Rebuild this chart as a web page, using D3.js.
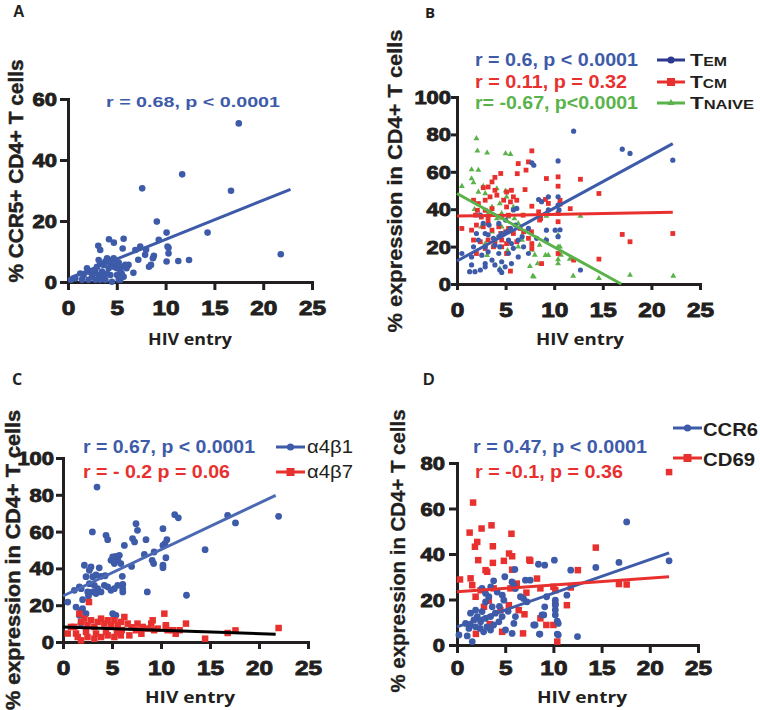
<!DOCTYPE html>
<html>
<head>
<meta charset="utf-8">
<script src="https://cdn.jsdelivr.net/npm/d3@7"></script>
<style>
body { margin: 0; background: #fff; }
svg text { font-family: "Liberation Sans", Arial, sans-serif; }
.tk { font-family: "Liberation Sans", Arial, sans-serif; font-weight: bold; fill: #231f20; stroke: #231f20; stroke-width: 0.9px; }
</style>
</head>
<body>
<div id="chart"></div>
<script>
// colours
var blue = "#3d5ba9", red = "#e8312f", green = "#5ab34a", navy = "#2b3a8f", ink = "#231f20";

var xTicks = [0, 5, 10, 15, 20, 25];
var xTitle = "HIV entry";

// ---- panel A: CCR5+ vs HIV entry
var ccr5 = [[17.5,52],[11.7,35.3],[7.6,30.7],[16.7,29.9],[9.1,19.8],[14.3,16.2],[10.1,16.2],[21.8,9.1],
  [12.4,7.2],[11.3,6.9],[10.1,6.7],[10.3,11.2],[10.3,9.4],[10.2,11.6],[9.3,13.8],[8.8,8.6],[8.5,5.6],
  [8.3,5.0],[8.7,7.8],[8.0,10.6],[7.4,11.6],[6.9,10.5],[7.2,7.3],[7.9,8.9],[6.7,3.0],[6.2,5.6],[6.0,4.5],
  [5.6,11.0],[5.7,14.2],[4.7,12.9],[4.2,14.0],[3.1,11.9],[3.3,10.5],[5.5,2.8],[5.7,1.7],[5.2,0.7],
  [0.3,0.7],[0.75,1.2],[1.26,2.8],[1.6,2.3],[1.95,4.5],[2.1,3.4],[2.46,1.7],[2.63,2.8],[2.8,3.9],
  [2.97,5.0],[3.14,2.3],[3.31,6.1],[3.48,3.4],[3.65,5.6],[3.65,1.7],[3.83,6.7],[4.0,7.8],[4.17,4.5],
  [4.34,6.1],[4.51,7.2],[4.68,5.0],[4.85,5.8],[5.02,2.3],[5.19,6.4],[5.36,3.9],[5.53,5.0],[4.34,2.3],
  [4.0,2.8],[2.8,0.7],[2.1,0.7],[1.43,0.7],[3.3,0.7],[5.0,4.5],[5.87,5.6],[3.83,0.7],[4.5,0.1],
  [5.36,0.7],[3.14,7.2],[4.17,7.2],[4.68,7.8]];
var fitA = [0.3, 1.5, 22.8, 30.4];
var yTicksA = [0, 20, 40, 60];
var statA = "r = 0.68, p < 0.0001";

// ---- panel B: memory subsets
var tem = [[12.0,81.7],[10.4,65.8],[7.7,64.8],[7.9,63.5],[17.0,72.1],[17.8,69.8],[22.2,66.2],[8.4,45.2],
  [8.7,44.0],[9.4,46.6],[10.4,46.6],[10.4,42.2],[6.15,40.4],[5.8,39.6],[10.5,39.6],[9.2,28.8],[10.1,28.8],
  [10.6,29.0],[6.0,31.5],[5.5,29.7],[5.0,34.2],[5.1,27.9],[4.3,32.4],[3.3,31.5],[2.4,36.8],[2.7,32.4],
  [2.0,27.0],[2.9,27.0],[2.2,23.5],[3.2,26.3],[3.75,24.4],[4.3,25.3],[4.6,27.0],[5.3,23.5],[5.6,21.6],
  [6.3,23.5],[6.7,25.3],[6.85,19.9],[5.8,19.1],[4.4,19.9],[3.9,20.7],[2.9,19.9],[1.7,19.9],[3.2,17.2],
  [4.3,16.3],[5.3,16.3],[6.3,14.5],[7.35,16.3],[8.2,24.4],[7.35,29.7],[0.5,16.3],[1.5,14.5],[2.55,15.4],
  [3.6,12.8],[4.6,11.9],[5.6,10.9],[3.9,10.2],[2.9,10.9],[1.5,10.2],[1.3,6.6],[1.85,6.6],[2.4,7.5],
  [2.9,9.2],[4.4,7.5],[4.95,9.2],[12.7,7.5],[9.4,39.6],[10.4,25.3],[9.2,23.5],[4.6,6.2]];
var tcm = [[7.7,71.2],[7.35,65.3],[6.3,64.4],[6.2,59.0],[7.1,60.9],[7.0,50.5],[9.2,56.4],[10.4,52.3],
  [10.4,57.3],[12.7,56.0],[4.5,59.1],[3.9,57.0],[3.6,54.6],[3.2,51.9],[2.7,51.5],[3.9,50.1],[1.7,44.8],
  [2.2,43.0],[2.9,44.8],[3.4,46.6],[4.1,47.5],[4.8,44.8],[5.1,49.2],[5.6,50.1],[5.8,46.6],[5.5,43.9],
  [6.15,44.8],[5.1,41.2],[3.6,40.3],[2.9,39.4],[2.1,39.4],[1.9,36.8],[2.5,35.8],[3.2,35.0],[4.6,35.8],
  [5.3,36.8],[6.8,36.8],[8.4,38.6],[8.6,35.0],[7.7,41.6],[11.65,40.3],[9.1,45.2],[9.4,43.1],[10.6,44.8],
  [10.6,42.7],[10.4,37.7],[10.4,33.3],[8.5,34.2],[7.66,27.9],[0.5,29.7],[1.5,28.8],[2.0,31.5],[2.7,30.6],
  [3.2,32.4],[3.6,28.8],[4.3,30.6],[4.5,27.0],[5.0,27.9],[5.3,29.7],[5.8,27.0],[6.5,29.7],[6.85,27.9],
  [1.7,23.5],[2.4,22.6],[3.2,23.5],[3.9,21.6],[4.6,23.5],[5.1,21.6],[6.15,22.6],[7.35,24.4],[7.7,21.6],
  [2.9,19.0],[3.75,19.9],[4.6,19.9],[2.0,16.3],[5.1,16.3],[7.7,19.0],[10.4,16.3],[12.0,12.8],[8.7,10.9],
  [5.5,6.9],[14.6,13.3],[14.6,48.4],[17.0,26.5],[17.8,22.6],[22.2,27.0]];
var tnaive = [[2.0,77.8],[2.1,71.2],[3.1,70.1],[5.0,69.8],[5.5,69.4],[1.5,61.2],[2.2,60.9],[0.5,52.3],
  [1.5,56.4],[1.7,54.2],[2.7,52.3],[2.2,49.2],[2.9,48.4],[4.1,51.0],[5.0,49.8],[5.1,46.6],[4.4,43.0],
  [3.6,41.2],[5.8,41.2],[4.6,37.7],[5.3,35.9],[5.9,35.0],[4.1,35.0],[3.2,37.7],[2.5,30.6],[3.6,27.9],
  [4.6,30.6],[6.3,32.4],[9.2,36.4],[12.7,36.4],[6.7,23.5],[9.1,23.9],[10.4,26.1],[2.9,21.6],[3.9,23.5],
  [6.3,19.9],[7.7,18.1],[8.5,20.8],[10.4,19.9],[10.6,19.9],[3.1,15.4],[8.0,15.5],[9.1,15.4],[9.4,15.4],
  [10.4,13.1],[11.6,13.3],[10.4,10.9],[7.5,9.4],[4.4,8.2],[8.3,10.9],[7.9,3.8],[7.8,4.3],[11.95,4.3],
  [14.6,3.0],[17.8,4.8],[22.25,4.3],[10.7,15.5],[5.2,18.0],[1.8,40.0]];
var fitTem = [0, 12.3, 22.2, 75.1];
var fitTcm = [0, 36.3, 22.2, 38.4];
var fitNaive = [0, 48.4, 16.9, 0];
var yTicksB = [0, 20, 40, 60, 80, 100];
var statsB = ["r = 0.6, p < 0.0001", "r = 0.11, p = 0.32", "r= -0.67, p<0.0001"];
var namesB = [["T", "EM"], ["T", "CM"], ["T", "NAIVE"]];

// ---- panel C: integrins
var a4b1 = [[3.47,84.2],[3.0,59.8],[4.39,58.0],[4.56,55.6],[7.45,64.3],[7.6,60.7],[7.1,56.2],[7.3,54.4],
  [8.47,55.6],[10.2,61.6],[10.6,55.6],[10.4,53.4],[10.2,52.5],[11.4,69.2],[11.77,67.5],[16.8,68.8],
  [17.6,64.7],[22.0,68.3],[14.5,50.2],[12.6,25.4],[10.2,41.7],[10.2,40.4],[10.5,45.8],[9.1,44.4],
  [9.25,42.6],[9.3,48.9],[8.6,27.2],[8.3,47.6],[7.0,41.1],[6.26,52.5],[6.05,35.7],[6.1,31.3],[6.1,27.2],
  [5.07,46.2],[5.4,46.5],[5.6,44.4],[5.75,47.1],[4.9,44.4],[5.24,42.6],[5.9,42.6],[2.18,41.7],[2.86,40.8],
  [2.69,39.0],[3.7,40.3],[3.88,35.7],[3.03,35.5],[3.37,36.4],[2.35,35.5],[2.69,31.7],[3.2,30.8],[3.54,29.0],
  [3.88,27.2],[4.22,30.8],[4.56,30.0],[4.9,28.1],[5.24,29.0],[5.58,30.8],[6.09,29.0],[1.67,30.0],[1.85,29.0],
  [1.16,28.1],[2.52,27.2],[3.03,27.2],[3.37,26.3],[0.48,21.7],[1.33,19.0],[1.84,17.2],[2.0,18.1],[2.35,15.4],
  [1.67,14.5],[1.84,10.2],[5.07,15.4],[5.4,14.5],[4.3,36.0],[2.0,23.0],[2.6,25.0]];
var a4b7 = [[2.65,21.7],[1.67,15.4],[0.48,4.6],[1.16,8.2],[1.84,10.9],[2.18,12.7],[2.5,9.1],[2.86,11.8],
  [3.2,8.2],[3.54,10.9],[3.88,12.7],[4.22,10.0],[4.56,11.8],[4.9,9.1],[5.24,11.8],[5.58,9.1],[5.9,10.9],
  [6.26,13.6],[6.6,10.0],[7.45,6.4],[7.6,10.0],[8.13,8.2],[8.64,7.3],[9.15,11.8],[9.66,7.3],[10.34,15.4],
  [10.5,9.1],[10.68,6.4],[11.2,6.4],[11.9,6.4],[12.55,10.0],[1.5,2.7],[1.84,0.9],[2.5,2.7],[3.2,1.8],
  [3.88,2.7],[4.56,3.6],[5.24,2.7],[5.9,3.6],[6.77,3.6],[0.82,8.2],[1.33,4.6],[2.35,5.5],[3.37,4.6],
  [4.39,5.5],[9.3,6.4],[14.5,1.8],[16.8,4.9],[17.6,6.3],[22.0,7.6],[11.5,4.5],[9.0,10.0],[10.5,8.2],
  [7.0,8.0],[8.0,4.5],[6.0,6.5],[5.5,5.0]];
var fitB1 = [0, 25, 21.7, 79.7];
var fitB7 = [0, 8.2, 21.7, 4.2];
var statsC = ["r = 0.67, p < 0.0001", "r = - 0.2 p = 0.06"];
var namesC = ["\u03b14\u03b21", "\u03b14\u03b27"];

// ---- panel D: CCR6 / CD69
var ccr6 = [[17.6,54.1],[16.8,36.3],[14.4,34.1],[22.0,37.0],[10.1,37.3],[8.45,35.5],[9.1,35.1],[11.8,32.9],
  [11.4,21.9],[12.5,3.7],[10.5,4.4],[10.4,10.5],[8.55,4.8],[9.0,13.2],[9.1,16.8],[9.3,21.2],[8.1,8.8],
  [10.2,19.7],[10.2,17.5],[10.2,15.4],[10.2,13.2],[7.1,28.5],[7.6,28.5],[6.0,33.2],[4.96,30.0],[3.8,28.2],
  [5.7,27.7],[5.9,26.3],[6.06,24.8],[2.6,24.9],[2.96,22.7],[3.3,21.2],[4.17,23.3],[4.7,21.9],[4.86,19.7],
  [2.96,18.9],[3.65,16.8],[6.58,21.2],[6.9,20.4],[7.26,19.0],[10.2,18.2],[1.93,15.3],[1.4,14.0],[2.1,12.5],
  [2.6,14.7],[1.76,11.0],[2.45,10.2],[2.96,11.7],[3.48,12.5],[3.98,14.0],[4.68,12.5],[4.34,10.2],[3.8,8.8],
  [3.1,8.0],[2.4,7.3],[1.93,8.0],[1.4,8.8],[0.89,9.5],[1.24,7.3],[2.76,5.8],[3.48,6.6],[5.03,6.6],[5.72,5.1],
  [5.9,9.5],[6.06,12.5],[7.96,8.8],[8.82,13.2],[8.6,4.8],[10.4,4.8],[10.5,9.5],[0.2,4.4],[1.06,4.0],
  [1.58,1.5],[4.4,17.0],[5.3,14.8],[3.5,25.5]];
var cd69 = [[1.67,62.6],[1.31,49.4],[2.55,51.2],[3.58,52.6],[5.65,48.9],[2.1,45.3],[1.86,43.2],[3.72,43.4],
  [2.2,37.3],[2.96,32.9],[3.13,32.2],[3.72,36.1],[4.86,37.0],[5.4,40.2],[5.72,39.0],[5.72,33.1],[7.5,37.5],
  [7.6,37.0],[8.3,29.2],[8.65,24.9],[0.31,28.8],[1.41,29.3],[1.58,26.3],[2.45,24.1],[3.8,24.9],[5.55,24.9],
  [1.93,21.2],[2.8,16.8],[4.5,15.3],[5.38,17.5],[6.4,15.3],[8.65,11.7],[9.27,8.8],[10.0,8.8],[11.4,17.5],
  [12.54,32.9],[10.4,1.5],[6.85,5.1],[4.68,5.8],[1.96,4.9],[3.4,9.2],[10.0,25.6],[10.2,24.1],[22.0,76.0],
  [14.4,42.8],[16.8,26.8],[17.6,26.6],[11.8,25.3],[7.0,13.5],[3.3,19.5],[6.2,27.0],[7.2,23.0]];
var fitCcr6 = [0, 8.0, 22.0, 40.5];
var fitCd69 = [0, 23.4, 22.0, 30.0];
var yTicksD = [0, 20, 40, 60, 80];
var statsD = ["r = 0.47, p < 0.0001", "r = -0.1, p = 0.36"];
var namesD = ["CCR6", "CD69"];

var svg = d3.select("#chart").append("svg")
    .attr("width", 760)
    .attr("height", 710);

function makePanel(p) {
    var x = d3.scaleLinear().domain([0, 25]).range([p.left, p.right]);
    var y = d3.scaleLinear().domain([0, p.yMax]).range([p.bottom, p.top]);
    var g = svg.append("g");

    var xa = g.append("g").attr("transform", "translate(0," + p.bottom + ")")
        .call(d3.axisBottom(x).tickValues(xTicks).tickSize(p.tick).tickSizeOuter(0));
    xa.selectAll("text").attr("y", null).attr("dy", null).attr("fill", null)
        .attr("class", "tk")
        .attr("transform", "translate(0," + p.xBase + ") scale(1.22,1)")
        .style("font-size", "20px");

    var ya = g.append("g").attr("transform", "translate(" + p.left + ",0)")
        .call(d3.axisLeft(y).tickValues(p.yTicks).tickSize(p.tick).tickSizeOuter(0));
    ya.selectAll("text").attr("x", null).attr("dy", null).attr("fill", null)
        .attr("class", "tk")
        .attr("transform", "translate(" + (-p.gap) + ",6.5) scale(1.22,1)")
        .style("font-size", "18px");

    [xa, ya].forEach(function(a) {
        a.select(".domain").attr("stroke", ink).attr("stroke-width", 3).attr("stroke-linecap", "square");
        a.selectAll(".tick line").attr("stroke", ink).attr("stroke-width", 3);
    });
    return { g: g, x: x, y: y };
}

function dots(P, data, color, r) {
    P.g.append("g").selectAll("circle").data(data).join("circle")
        .attr("cx", d => P.x(d[0])).attr("cy", d => P.y(d[1]))
        .attr("r", r).attr("fill", color);
}

function squares(P, data, color, s) {
    P.g.append("g").selectAll("rect").data(data).join("rect")
        .attr("x", d => P.x(d[0]) - s / 2).attr("y", d => P.y(d[1]) - s / 2)
        .attr("width", s).attr("height", s).attr("fill", color);
}

function triangles(P, data, color, size) {
    var sym = d3.symbol().type(d3.symbolTriangle).size(size);
    P.g.append("g").selectAll("path").data(data).join("path")
        .attr("transform", d => "translate(" + P.x(d[0]) + "," + P.y(d[1]) + ")")
        .attr("d", sym).attr("fill", color);
}

function fitLine(P, f, color, w) {
    P.g.append("line")
        .attr("x1", P.x(f[0])).attr("y1", P.y(f[1]))
        .attr("x2", P.x(f[2])).attr("y2", P.y(f[3]))
        .attr("stroke", color).attr("stroke-width", w);
}

function txt(str, x, y, o) {
    var t = svg.append("text").attr("x", x).attr("y", y).text(str)
        .style("font-size", o.size + "px")
        .style("font-weight", o.weight || "bold")
        .attr("fill", o.color || ink);
    if (o.len) t.attr("textLength", o.len).attr("lengthAdjust", "spacingAndGlyphs");
    if (o.anchor) t.attr("text-anchor", o.anchor);
    if (o.font) t.style("font-family", o.font);
    if (o.rotate) t.attr("transform", "rotate(-90," + x + "," + y + ")");
    if (o.heavy) t.attr("stroke", o.color || ink).attr("stroke-width", o.heavy);
    return t;
}

function legendKey(x1, x2, y, color, marker) {
    svg.append("line").attr("x1", x1).attr("x2", x2).attr("y1", y).attr("y2", y)
        .attr("stroke", color).attr("stroke-width", 3);
    var cx = (x1 + x2) / 2;
    if (marker === "circle") svg.append("circle").attr("cx", cx).attr("cy", y).attr("r", 3.6).attr("fill", color);
    if (marker === "square") svg.append("rect").attr("x", cx - 4).attr("y", y - 4).attr("width", 8).attr("height", 8).attr("fill", color);
    if (marker === "triangle") svg.append("path").attr("transform", "translate(" + cx + "," + y + ")")
        .attr("d", d3.symbol().type(d3.symbolTriangle).size(22)).attr("fill", color);
}

var myriad = "'Open Sans', 'Liberation Sans', sans-serif";

// ---------- A
var A = makePanel({ left: 68, right: 312, bottom: 282, top: 99, yMax: 60, yTicks: yTicksA, tick: 8, gap: 11, xBase: 33 });
fitLine(A, fitA, blue, 3);
dots(A, ccr5, blue, 3.3);
txt("A", 13, 17, { size: 16 });
txt(statA, 106, 107, { size: 15, color: blue, len: 174 });
txt("% CCR5+ CD4+ T cells", 23, 171, { size: 21, anchor: "middle", rotate: true, len: 223, heavy: 0.5 });
txt(xTitle, 190, 345, { size: 16.5, anchor: "middle", len: 84, font: myriad });

// ---------- B
var B = makePanel({ left: 457, right: 700, bottom: 284, top: 97, yMax: 100, yTicks: yTicksB, tick: 6, gap: 6, xBase: 33 });
triangles(B, tnaive, green, 15);
squares(B, tcm, red, 4.8);
dots(B, tem, blue, 2.6);
fitLine(B, fitTem, blue, 3);
fitLine(B, fitTcm, red, 3);
fitLine(B, fitNaive, green, 3);
txt("B", 425, 18, { size: 15, font: myriad });
var colsB = [blue, red, green];
var keyColsB = [navy, red, green];
var markB = ["circle", "square", "triangle"];
var rowB = [60, 82, 103];
statsB.forEach(function(s, i) {
    txt(s, 475, rowB[i] + 6, { size: 17.5, color: colsB[i], len: i === 1 ? 152 : 163 });
    legendKey(657, 685, rowB[i], keyColsB[i], markB[i]);
    var t = svg.append("text").attr("x", 690).attr("y", rowB[i] + 6)
        .style("font-weight", "bold").attr("fill", ink)
        .attr("textLength", i === 2 ? 64 : 37).attr("lengthAdjust", "spacingAndGlyphs");
    t.append("tspan").style("font-size", "17px").text(namesB[i][0]);
    t.append("tspan").style("font-size", "12.5px").text(namesB[i][1]);
});
txt("% expression in CD4+ T cells", 402, 181, { size: 21, anchor: "middle", rotate: true, len: 303, heavy: 0.3 });
txt(xTitle, 580, 345, { size: 16.5, anchor: "middle", len: 88, font: myriad });

// ---------- C
var C = makePanel({ left: 63, right: 308, bottom: 642, top: 458, yMax: 100, yTicks: yTicksB, tick: 7, gap: 9, xBase: 33 });
dots(C, a4b1, blue, 3.4);
squares(C, a4b7, red, 6.5);
fitLine(C, fitB1, "#4a68b3", 3);
fitLine(C, fitB7, "#000", 3);
txt("C", 12, 385, { size: 16, font: myriad });
var colsC = [blue, red];
var rowC = [447, 472];
statsC.forEach(function(s, i) {
    txt(s, 83, rowC[i] + 6, { size: 17.5, color: colsC[i], len: i === 0 ? 172 : 147 });
    legendKey(276, 305, rowC[i], colsC[i], i === 0 ? "circle" : "square");
    txt(namesC[i], 307, rowC[i] + 6, { size: 19, weight: "normal", len: 46 });
});
txt("% expression in CD4+ T cells", 20, 560, { size: 21, anchor: "middle", rotate: true, len: 300, heavy: 0.5 });
txt(xTitle, 190, 703, { size: 16.5, anchor: "middle", len: 90, font: myriad });

// ---------- D
var D = makePanel({ left: 457, right: 698, bottom: 645, top: 463, yMax: 80, yTicks: yTicksD, tick: 8, gap: 12, xBase: 30 });
squares(D, cd69, red, 6.5);
dots(D, ccr6, blue, 3.4);
fitLine(D, fitCcr6, blue, 3);
fitLine(D, fitCd69, red, 3);
txt("D", 423, 385, { size: 16 });
var colsD = [blue, red];
var rowD = [428, 458];
statsD.forEach(function(s, i) {
    txt(s, i === 0 ? 473 : 475, 447 + i * 25 + 6, { size: 17.5, color: colsD[i], len: i === 0 ? 174 : 148 });
    legendKey(673, 702, rowD[i], colsD[i], i === 0 ? "circle" : "square");
    txt(namesD[i], 703, rowD[i] + 8, { size: 19, len: i === 0 ? 55 : 52 });
});
txt("% expression in CD4+ T cells", 405, 551, { size: 21, anchor: "middle", rotate: true, len: 283, heavy: 0.3 });
txt(xTitle, 582, 703, { size: 16.5, anchor: "middle", len: 90, font: myriad });
</script>
</body>
</html>
